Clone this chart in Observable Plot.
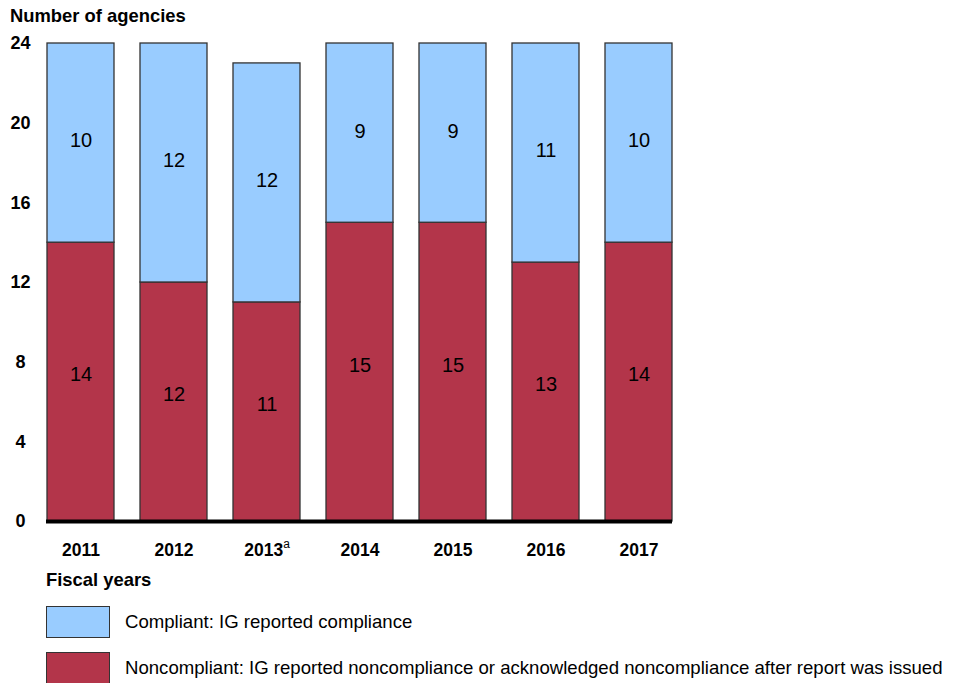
<!DOCTYPE html>
<html>
<head>
<meta charset="utf-8">
<script src="https://cdn.jsdelivr.net/npm/d3@7"></script>
<script src="https://cdn.jsdelivr.net/npm/@observablehq/plot@0.6"></script>
<style>
  body { margin: 0; background: #fff; font-family: "Liberation Sans", Arial, sans-serif; color: #000; width: 957px; height: 683px; overflow: hidden; }
  .title { font-weight: bold; font-size: 18.4px; height: 28px; box-sizing: border-box; padding: 5px 0 0 10px; line-height: 22px; }
  .xtitle { font-weight: bold; font-size: 18.4px; height: 24px; line-height: 24px; padding-left: 46px; }
  .legend { padding-left: 46px; margin-top: 14px; }
  .row { display: flex; align-items: center; height: 32px; margin-bottom: 14px; }
  .sw { width: 62px; height: 30px; border: 1px solid #333; margin-right: 15px; }
  .lab { font-size: 18.6px; }
  #chart svg { display: block; }
</style>
</head>
<body>
<div class="title">Number of agencies</div>
<div id="chart"></div>
<div class="xtitle">Fiscal years</div>
<div class="legend" id="legend"></div>
<script>
const years = ["2011", "2012", "2013", "2014", "2015", "2016", "2017"];
const compliant = [10, 12, 12, 9, 9, 11, 10];
const noncompliant = [14, 12, 11, 15, 15, 13, 14];
const yTicks = [0, 4, 8, 12, 16, 20, 24];
const seriesNames = ["Compliant", "Noncompliant"];
const seriesLabels = ["Compliant: IG reported compliance", "Noncompliant: IG reported noncompliance or acknowledged noncompliance after report was issued"];
const seriesColors = ["#99CCFF", "#B3354A"];

const rows = [];
years.forEach((yr, i) => {
  rows.push({year: yr, series: "Noncompliant", y1: 0, y2: noncompliant[i], value: noncompliant[i]});
  rows.push({year: yr, series: "Compliant", y1: noncompliant[i], y2: noncompliant[i] + compliant[i], value: compliant[i]});
});
rows.forEach(d => d.mid = (d.y1 + d.y2) / 2);

const chart = Plot.plot({
  width: 957,
  height: 540,
  marginTop: 15,
  marginBottom: 47,
  marginLeft: 46,
  marginRight: 285,
  style: {fontFamily: "'Liberation Sans', Arial, sans-serif", background: "#fff", color: "#000"},
  x: {domain: years, paddingInner: 0.28, paddingOuter: 0, label: null},
  y: {domain: [0, 24], label: null},
  color: {domain: seriesNames, range: seriesColors},
  marks: [
    Plot.barY(rows, {x: "year", y1: "y1", y2: "y2", fill: "series", stroke: "#333", strokeWidth: 1.3}),
    Plot.text(rows.filter(d => d.series === "Compliant"), {x: "year", y: "mid", text: d => String(d.value), fontSize: 20, fill: "#000", dy: -2}),
    Plot.text(rows.filter(d => d.series === "Noncompliant"), {x: "year", y: "mid", text: d => String(d.value), fontSize: 20, fill: "#000", dy: -7}),
    Plot.ruleY([0], {stroke: "#000", strokeWidth: 4}),
    Plot.axisY({ticks: yTicks, tickSize: 0, tickPadding: 26, textAnchor: "middle", fontSize: 18, fontWeight: "bold", label: null}),
    Plot.axisX({tickSize: 0, tickPadding: 22, fontSize: 17.5, fontWeight: "bold", label: null})
  ]
});
document.getElementById("chart").appendChild(chart);

// superscript "a" on 2013
d3.select(chart).selectAll("text").each(function() {
  if (this.textContent === "2013") {
    d3.select(this).append("tspan").attr("dy", "-0.7em").attr("font-size", 12).attr("font-weight", "normal").text("a");
  }
});

const legend = d3.select("#legend");
seriesNames.forEach((s, i) => {
  const r = legend.append("div").attr("class", "row");
  r.append("div").attr("class", "sw").style("background", seriesColors[i]);
  r.append("div").attr("class", "lab").text(seriesLabels[i]);
});
</script>
</body>
</html>
